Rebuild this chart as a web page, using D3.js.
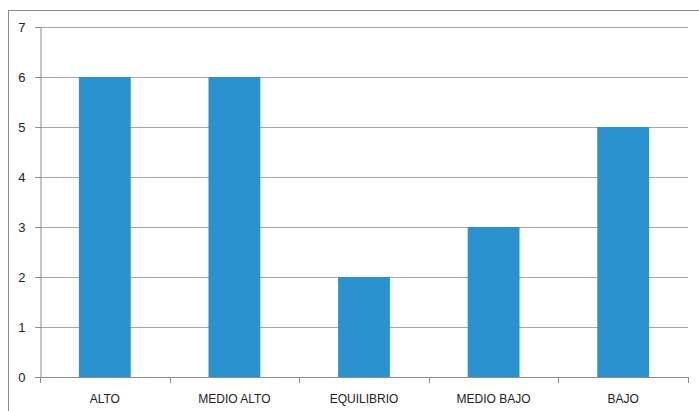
<!DOCTYPE html>
<html><head><meta charset="utf-8">
<script src="https://cdn.jsdelivr.net/npm/d3@7"></script>
<style>body{margin:0;background:#fff}svg{display:block}</style>
</head><body>
<script>
const categories = ["ALTO", "MEDIO ALTO", "EQUILIBRIO", "MEDIO BAJO", "BAJO"];
const values = [6, 6, 2, 3, 5];
const yTicks = [0, 1, 2, 3, 4, 5, 6, 7];

(function () {
const W = 699, H = 411;
const svg = d3.select("body").append("svg").attr("width", W).attr("height", H);
svg.append("rect").attr("x", 8.5).attr("y", 10.5).attr("width", 720).attr("height", 420)
  .attr("fill", "none").attr("stroke", "#8c8c8c").attr("stroke-width", 1);

const mLeft = 40, mRight = 688, mTop = 27, mBottom = 377;
const x = d3.scaleBand().domain(categories).range([mLeft, mRight]).paddingInner(0.6).paddingOuter(0.3);
const y = d3.scaleLinear().domain([0, 7]).range([mBottom, mTop]);
const font = "'Liberation Sans', Arial, sans-serif";

// gridlines
svg.append("g").selectAll("line").data(yTicks.filter(d => d > 0)).join("line")
  .attr("x1", mLeft - 5).attr("x2", mRight)
  .attr("y1", d => Math.round(y(d)) + 0.5).attr("y2", d => Math.round(y(d)) + 0.5)
  .attr("stroke", "#a6a6a6").attr("stroke-width", 1);

// bars
svg.append("g").selectAll("rect").data(values).join("rect")
  .attr("x", (d, i) => x(categories[i]))
  .attr("width", x.bandwidth())
  .attr("y", d => y(d))
  .attr("height", d => y(0) - y(d))
  .attr("fill", "#2a92cf");

// y axis
const yAxis = svg.append("g").attr("transform", `translate(${mLeft + 0.5},0)`)
  .call(d3.axisLeft(y).tickValues(yTicks).tickSize(5).tickSizeOuter(0).tickPadding(10).tickFormat(d3.format("d")));
yAxis.select(".domain").attr("stroke", "#8c8c8c");
yAxis.selectAll(".tick line").attr("stroke", "#8c8c8c");
yAxis.selectAll("text").attr("font-family", font).attr("font-size", 13).attr("fill", "#222");

// x axis
const step = x.step();
const boundaries = d3.range(categories.length + 1).map(i => mLeft + i * step);
const xg = svg.append("g");
xg.append("line").attr("x1", mLeft - 5).attr("x2", mRight).attr("y1", mBottom + 0.5).attr("y2", mBottom + 0.5)
  .attr("stroke", "#8c8c8c");
xg.selectAll("line.t").data(boundaries).join("line").attr("class", "t")
  .attr("x1", d => Math.round(d) + 0.5).attr("x2", d => Math.round(d) + 0.5)
  .attr("y1", mBottom).attr("y2", mBottom + 6).attr("stroke", "#8c8c8c");
xg.selectAll("text").data(categories).join("text")
  .attr("x", d => x(d) + x.bandwidth() / 2).attr("y", 403)
  .attr("text-anchor", "middle").attr("font-family", font).attr("font-size", 12).attr("fill", "#222")
  .text(d => d);
})();
</script>
</body></html>
